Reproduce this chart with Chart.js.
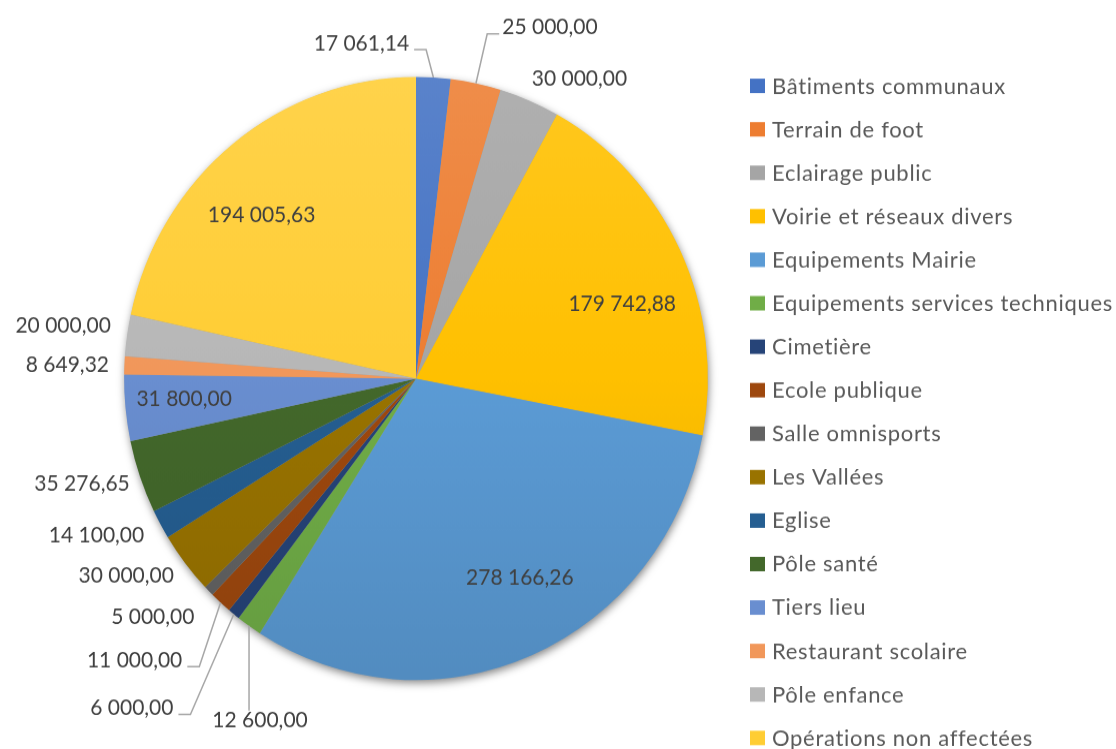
<!DOCTYPE html>
<html lang="fr">
<head>
<meta charset="utf-8">
<title>Investissements</title>
<script src="https://cdn.jsdelivr.net/npm/chart.js@4/dist/chart.umd.min.js"></script>
<style>
  html, body { margin: 0; padding: 0; background: #fff; overflow: hidden; }
  #chart { display: block; }
</style>
</head>
<body>
<!-- drawing buffer 1116x725, shown at 1116x749 so the pie comes out slightly taller than wide -->
<canvas id="chart" width="1116" height="725" style="width:1116px;height:749px"></canvas>
<script>
const categories = [
  'Bâtiments communaux',
  'Terrain de foot',
  'Eclairage public',
  'Voirie et réseaux divers',
  'Equipements Mairie',
  'Equipements services techniques',
  'Cimetière',
  'Ecole publique',
  'Salle omnisports',
  'Les Vallées',
  'Eglise',
  'Pôle santé',
  'Tiers lieu',
  'Restaurant scolaire',
  'Pôle enfance',
  'Opérations non affectées'
];

const amounts = [
  17061.14, 25000.00, 30000.00, 179742.88, 278166.26, 12600.00, 6000.00, 11000.00,
  5000.00, 30000.00, 14100.00, 35276.65, 31800.00, 8649.32, 20000.00, 194005.63
];

const sliceColors = [
  '#4472C4', '#ED7D31', '#A5A5A5', '#FFC000', '#5B9BD5', '#70AD47', '#264478', '#9E480E',
  '#636363', '#997300', '#255E91', '#43682B', '#698ED0', '#F1975A', '#B7B7B7', '#FFCD33'
];

// where each value label sits, relative to its slice (outer edge point, or inside at a radius fraction)
const labelPlacement = [
  { dx: -72, dy: -34, line: 'elbow' },
  { dx: 74, dy: -55, line: 'elbow' },
  { dx: 50, dy: -22 },
  { inside: 0.75, dx: 8, dy: 20 },
  { inside: 0.75, dx: 17, dy: -9 },
  { dx: 11, dy: 91, line: 'down' },
  { dx: -102, dy: 90, line: 'elbow' },
  { dx: -86, dy: 55, line: 'elbow' },
  { dx: -56, dy: 25 },
  { dx: -59, dy: 11 },
  { dx: -64, dy: 10 },
  { dx: -58, dy: 6 },
  { inside: 0.75, dx: -14, dy: -2 },
  { dx: -57, dy: -1 },
  { dx: -64, dy: -10 },
  { inside: 0.75, dx: -17, dy: 12 }
];

const legendTop = 82.6;
const legendStep = 42.08;

function formatAmount(v) {
  const parts = v.toFixed(2).split('.');
  return parts[0].replace(/\B(?=(\d{3})+(?!\d))/g, ' ') + ',' + parts[1];
}

function mix(hex, other, t) {
  const a = parseInt(hex.slice(1), 16);
  const b = parseInt(other.slice(1), 16);
  const ch = s => Math.round(((a >> s) & 255) * (1 - t) + ((b >> s) & 255) * t);
  return `rgb(${ch(16)}, ${ch(8)}, ${ch(0)})`;
}

function shadedFill(chart, hex) {
  const area = chart.chartArea;
  if (!area) return hex;
  const g = chart.ctx.createLinearGradient(0, area.top, 0, area.bottom);
  g.addColorStop(0, mix(hex, '#ffffff', 0.12));
  g.addColorStop(0.5, hex);
  g.addColorStop(1, mix(hex, '#000000', 0.1));
  return g;
}

const pieShadow = {
  id: 'pieShadow',
  beforeDatasetsDraw(chart) {
    const arc = chart.getDatasetMeta(0).data[0];
    if (!arc) return;
    const { x, y, outerRadius } = arc.getProps(['x', 'y', 'outerRadius'], true);
    const ctx = chart.ctx;
    ctx.save();
    ctx.shadowColor = 'rgba(0, 0, 0, 0.5)';
    ctx.shadowBlur = 9;
    ctx.shadowOffsetX = 1;
    ctx.shadowOffsetY = 3;
    ctx.fillStyle = '#9a9a9a';
    ctx.beginPath();
    ctx.arc(x, y, outerRadius - 0.5, 0, Math.PI * 2);
    ctx.fill();
    ctx.restore();
  }
};

const valueLabels = {
  id: 'valueLabels',
  afterDatasetsDraw(chart) {
    const ctx = chart.ctx;
    const values = chart.data.datasets[0].data;
    ctx.save();
    ctx.font = '21px Lato';
    ctx.textAlign = 'center';
    ctx.textBaseline = 'alphabetic';
    ctx.strokeStyle = '#a6a6a6';
    ctx.lineWidth = 1.5;
    chart.getDatasetMeta(0).data.forEach((arc, i) => {
      const { x, y, startAngle, endAngle, outerRadius } =
        arc.getProps(['x', 'y', 'startAngle', 'endAngle', 'outerRadius'], true);
      const mid = (startAngle + endAngle) / 2;
      const place = labelPlacement[i];
      const text = formatAmount(values[i]);
      const w = ctx.measureText(text).width;
      let cx, cy;
      if (place.inside) {
        cx = x + Math.cos(mid) * outerRadius * place.inside + place.dx;
        cy = y + Math.sin(mid) * outerRadius * place.inside + place.dy;
      } else {
        const ex = x + Math.cos(mid) * outerRadius;
        const ey = y + Math.sin(mid) * outerRadius;
        cx = ex + place.dx;
        cy = ey + place.dy;
        if (place.line === 'elbow') {
          const dir = cx < ex ? 1 : -1;
          const endX = dir > 0 ? cx + w / 2 + 5 : cx - w / 2 - 3;
          const lineY = cy + 7;
          ctx.beginPath();
          ctx.moveTo(ex, ey);
          ctx.lineTo(endX + dir * 12, lineY);
          ctx.lineTo(endX, lineY);
          ctx.stroke();
        } else if (place.line === 'down') {
          ctx.beginPath();
          ctx.moveTo(ex, ey);
          ctx.lineTo(ex, cy - 9);
          ctx.stroke();
        }
      }
      ctx.fillStyle = '#404040';
      ctx.fillText(text, cx, cy + 7.5);
    });
    ctx.restore();
  }
};

const sideLegend = {
  id: 'sideLegend',
  afterDraw(chart) {
    const ctx = chart.ctx;
    ctx.save();
    ctx.font = '22px Lato';
    ctx.letterSpacing = '0.7px';
    ctx.textAlign = 'left';
    ctx.textBaseline = 'alphabetic';
    chart.data.labels.forEach((label, i) => {
      const rowY = legendTop + i * legendStep;
      ctx.fillStyle = sliceColors[i];
      ctx.fillRect(750, rowY - 6.5, 15, 14);
      ctx.fillStyle = '#595959';
      ctx.fillText(label, 772, rowY + 7.9);
    });
    ctx.restore();
  }
};

new Chart(document.getElementById('chart'), {
  type: 'pie',
  data: {
    labels: categories,
    datasets: [
      {
        data: amounts,
        backgroundColor: context => shadedFill(context.chart, sliceColors[context.dataIndex]),
        borderWidth: 0
      }
    ]
  },
  options: {
    responsive: false,
    animation: false,
    layout: {
      padding: { left: 124, right: 408, top: 74.5, bottom: 66.7 }
    },
    plugins: {
      legend: { display: false },
      tooltip: { enabled: false }
    }
  },
  plugins: [pieShadow, valueLabels, sideLegend]
});
</script>
</body>
</html>
